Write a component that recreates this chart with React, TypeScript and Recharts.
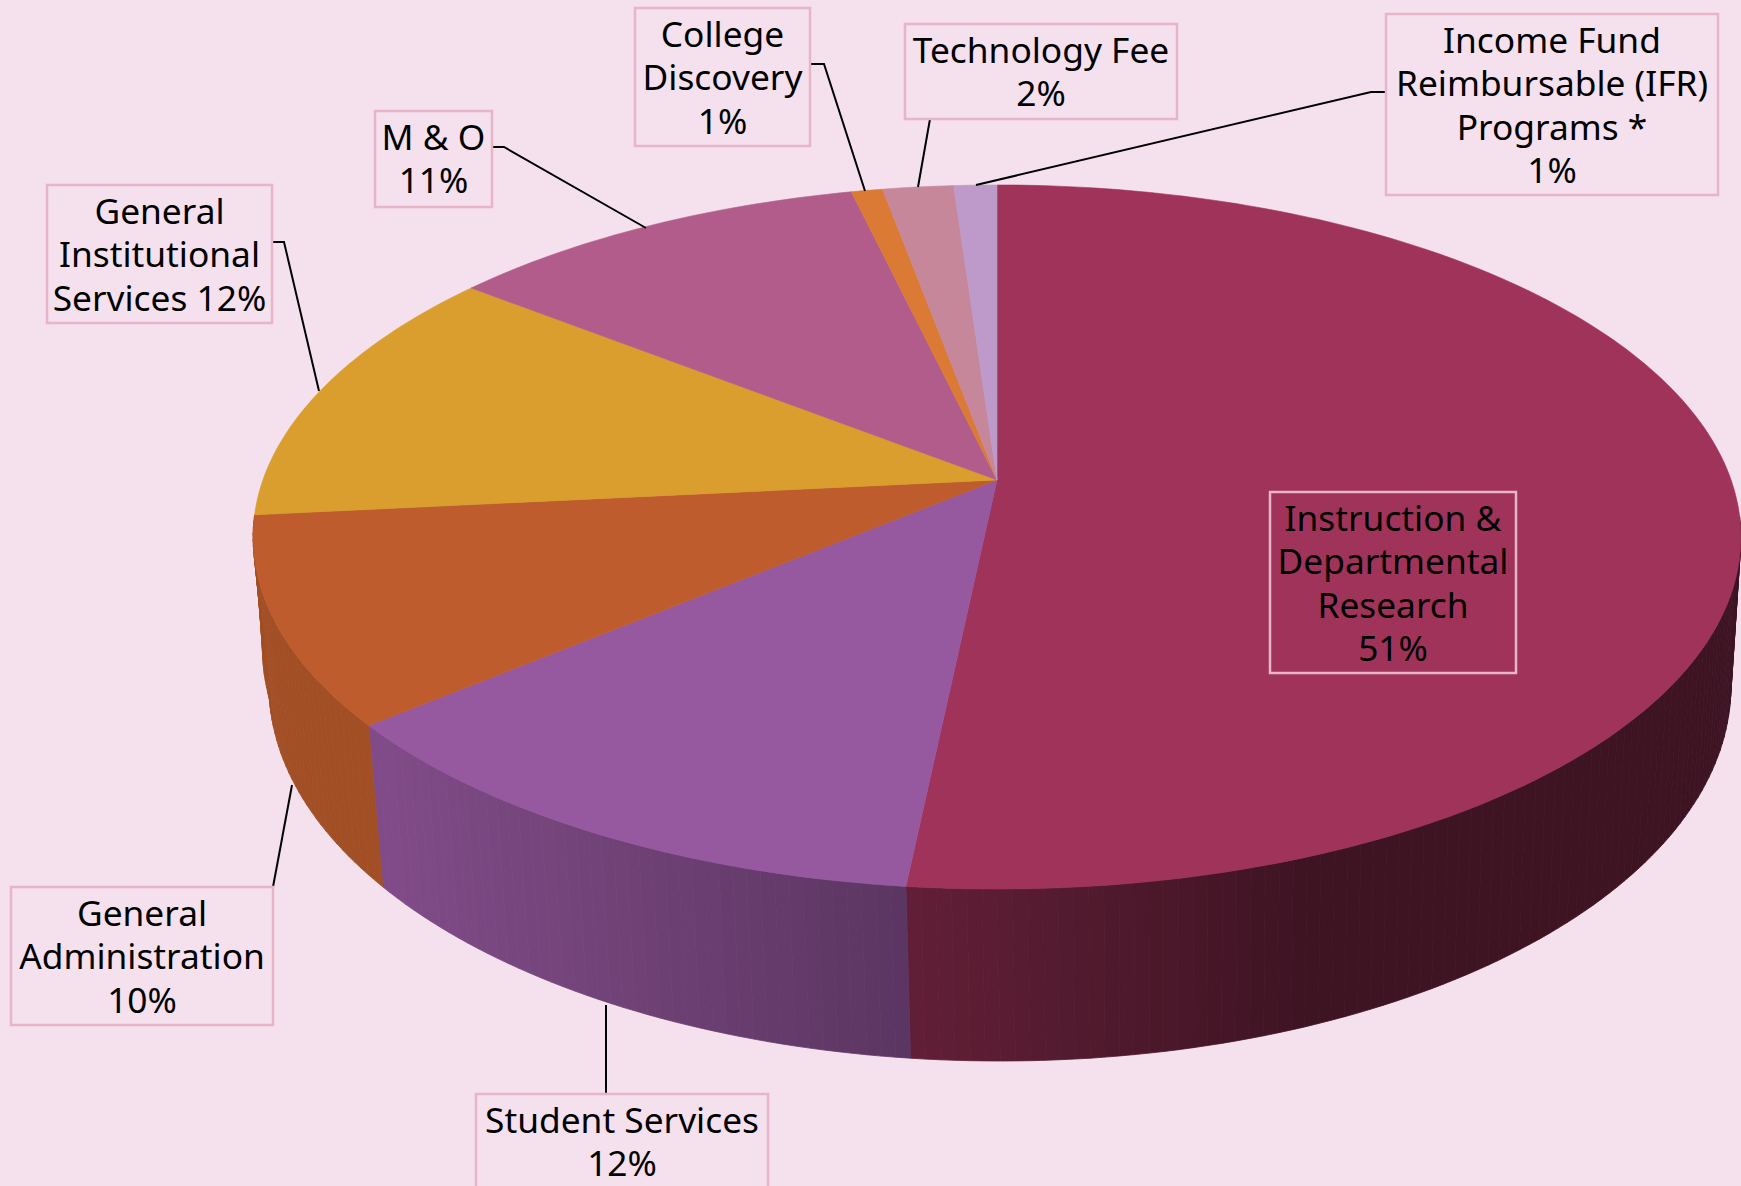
import React from 'react';
import { PieChart, Pie } from 'recharts';

const categories = [
  'Instruction & Departmental Research',
  'Student Services',
  'General Administration',
  'General Institutional Services',
  'M & O',
  'College Discovery',
  'Technology Fee',
  'Income Fund Reimbursable (IFR) Programs',
];

// slice shares as measured on the drawing (the printed labels are rounded)
const shares = [51.66, 12.25, 9.5, 12.15, 10.75, 0.8, 1.8, 1.09];

const colors = ['#A0335A', '#96589F', '#BE5C2D', '#D99E2E', '#B25C8C', '#DB7A35', '#C6879B', '#BE9ACB'];

const labelLines = [
  ['Instruction &', 'Departmental', 'Research', '51%'],
  ['Student Services', '12%'],
  ['General', 'Administration', '10%'],
  ['General', 'Institutional', 'Services 12%'],
  ['M & O', '11%'],
  ['College', 'Discovery', '1%'],
  ['Technology Fee', '2%'],
  ['Income Fund', 'Reimbursable (IFR)', 'Programs *', '1%'],
];

// label box [x, y, w, h] and leader line, page pixels
const boxes = [
  [1270, 492, 246, 181],
  [476, 1094, 292, 110],
  [11, 887, 262, 138],
  [47, 185, 225, 138],
  [375, 111, 117, 96],
  [635, 8, 175, 138],
  [905, 24, 272, 95],
  [1386, 14, 332, 181],
];
const leaders = [
  '',
  '606,1094 606,1005',
  '273,887 292,785',
  '272,242 284,242 319,391',
  '492,147 504,147 646,228',
  '811,64 824,64 865,191',
  '930,119 918,187',
  '1386,92 1371,92 976,185',
];

const table = categories.map((name, i) => ({ name, value: shares[i], fill: colors[i] }));

const WIDTH = 1741;
const HEIGHT = 1186;
const CX = 997;
const CY = 480;
const RADIUS = 300;

// tilt of the disc: the pie centre sits above the middle of the ellipse
const K = 0.1619;
const SX = 734.1;
const SY = 342.8;

const project = (deg: number, cx: number, cy: number) => {
  const a = (deg * Math.PI) / 180;
  const x = Math.cos(a);
  const y = -Math.sin(a);
  const w = 1 - K * y;
  return [cx + (SX * x) / w, cy + (SY * y) / w];
};

// rim of the bottom face, from the matching rim point of the top face
const drop = (p: number[]) => {
  const y = 686 + (p[1] - 537) * (375 / 352);
  let x = 1000 + (p[0] - CX) * (731 / 744);
  // left flank of the wall runs straighter than the ellipse
  if (p[0] < CX) x -= 8 * Math.min(1, Math.max(0, (700 - y) / 40));
  return [x, y];
};

const angleSteps = (start: number, end: number) => {
  const out: number[] = [];
  const n = Math.max(1, Math.ceil(Math.abs(end - start)));
  for (let i = 0; i <= n; i++) out.push(start + ((end - start) * i) / n);
  return out;
};

const shadeAt = (x: number) => {
  if (x <= 384) return 0.855;
  if (x <= 907) return 0.855 + ((x - 384) / 523) * (0.61 - 0.855);
  if (x <= 1300) return 0.61 + ((x - 907) / 393) * (0.39 - 0.61);
  return 0.39;
};

const darken = (hex: string, f: number) => {
  const n = parseInt(hex.slice(1), 16);
  const c = [(n >> 16) & 255, (n >> 8) & 255, n & 255].map((v) => Math.round(v * f));
  return `rgb(${c[0]},${c[1]},${c[2]})`;
};

const TopFace = (props: any) => {
  const { cx, cy, startAngle, endAngle, fill } = props;
  const pts = angleSteps(startAngle, endAngle).map((d) => project(d, cx, cy));
  const path = `M${cx},${cy}L` + pts.map((p) => `${p[0].toFixed(1)},${p[1].toFixed(1)}`).join('L') + 'Z';
  return <path d={path} fill={fill} stroke={fill} strokeWidth={0.6} />;
};

const WallFace = (props: any) => {
  const { cx, cy, startAngle, endAngle, fill } = props;
  const steps = angleSteps(startAngle, endAngle);
  return (
    <g>
      {steps.slice(1).map((d, i) => {
        const a = project(steps[i], cx, cy);
        const b = project(d, cx, cy);
        // the back of the wall never shows
        if (Math.min(a[1], b[1]) < 514) return null;
        const c = drop(b);
        const e = drop(a);
        const col = darken(fill, shadeAt((a[0] + b[0]) / 2));
        return (
          <polygon
            key={i}
            points={[a, b, c, e].map((p) => p.map((v) => v.toFixed(1)).join(',')).join(' ')}
            fill={col}
            stroke={col}
            strokeWidth={0.8}
          />
        );
      })}
    </g>
  );
};

const LINE_GAP = 43.3;

const SliceLabel = (props: any) => {
  const i = props.index;
  const [x, y, w, h] = boxes[i];
  return (
    <g>
      {leaders[i] && <polyline points={leaders[i]} fill="none" stroke="#000" strokeWidth={2} />}
      <rect x={x} y={y} width={w} height={h} fill="none" stroke="#E8B4C8" strokeWidth={2.5} />
      {labelLines[i].map((line, j) => (
        <text
          key={j}
          x={x + w / 2}
          y={y + 39 + j * LINE_GAP}
          textAnchor="middle"
          fontFamily="'Noto Sans', sans-serif"
          fontSize={35.3}
          fill="#000"
        >
          {line}
        </text>
      ))}
    </g>
  );
};

export default function App() {
  return (
    <div style={{ position: 'absolute', left: 0, top: 0, width: WIDTH, height: HEIGHT, background: '#F5E1ED', overflow: 'hidden' }}>
      <PieChart width={WIDTH} height={HEIGHT} margin={{ top: 0, right: 0, bottom: 0, left: 0 }}>
        <Pie
          data={table}
          dataKey="value"
          nameKey="name"
          cx={CX}
          cy={CY}
          outerRadius={RADIUS}
          startAngle={90}
          endAngle={-270}
          stroke="none"
          shape={WallFace}
          isAnimationActive={false}
        />
        <Pie
          data={table}
          dataKey="value"
          nameKey="name"
          cx={CX}
          cy={CY}
          outerRadius={RADIUS}
          startAngle={90}
          endAngle={-270}
          stroke="none"
          shape={TopFace}
          label={SliceLabel}
          labelLine={false}
          isAnimationActive={false}
        />
      </PieChart>
    </div>
  );
}
